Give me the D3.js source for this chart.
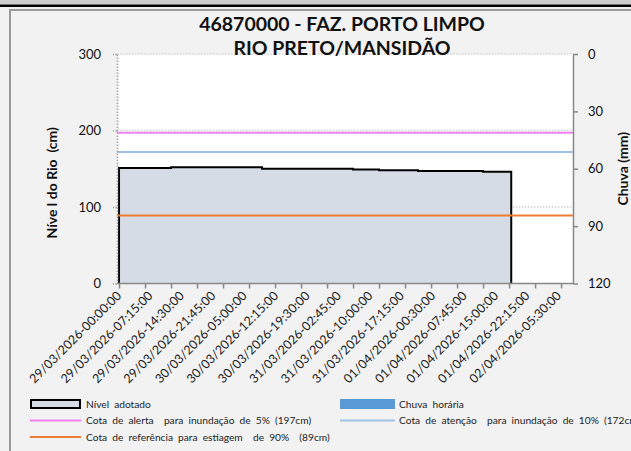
<!DOCTYPE html>
<html>
<head>
<meta charset="utf-8">
<script src="https://cdn.jsdelivr.net/npm/d3@7"></script>
<style>
  body { margin: 0; background: #f2f2f2; }
  svg { display: block; font-family: Lato, 'Open Sans', sans-serif; }
</style>
</head>
<body>
<svg id="chart" width="631" height="451"></svg>
<script>
// river level readings (cm), every 3 h
const levelTimes = [
  '29/03/2026 00:00', '29/03/2026 03:00', '29/03/2026 06:00', '29/03/2026 09:00',
  '29/03/2026 12:00', '29/03/2026 15:00', '29/03/2026 18:00', '29/03/2026 21:00',
  '30/03/2026 00:00', '30/03/2026 03:00', '30/03/2026 06:00', '30/03/2026 09:00',
  '30/03/2026 12:00', '30/03/2026 15:00', '30/03/2026 18:00', '30/03/2026 21:00',
  '31/03/2026 00:00', '31/03/2026 03:00', '31/03/2026 06:00', '31/03/2026 09:00',
  '31/03/2026 12:00', '31/03/2026 15:00', '31/03/2026 18:00', '31/03/2026 21:00',
  '01/04/2026 00:00', '01/04/2026 03:00', '01/04/2026 06:00', '01/04/2026 09:00',
  '01/04/2026 12:00', '01/04/2026 15:00', '01/04/2026 18:00', '01/04/2026 18:30'
];
const levelValues = [
  151, 151, 151, 151, 152, 152, 152, 152,
  152, 152, 152, 150, 150, 150, 150, 150,
  150, 150, 149, 149, 148, 148, 148, 147,
  147, 147, 147, 147, 146, 146, 146, 146
];
// hourly rain (mm) - nothing recorded
const rainValues = levelValues.map(() => 0);

const xLabels = [
  '29/03/2026-00:00:00', '29/03/2026-07:15:00', '29/03/2026-14:30:00', '29/03/2026-21:45:00',
  '30/03/2026-05:00:00', '30/03/2026-12:15:00', '30/03/2026-19:30:00', '31/03/2026-02:45:00',
  '31/03/2026-10:00:00', '31/03/2026-17:15:00', '01/04/2026-00:30:00', '01/04/2026-07:45:00',
  '01/04/2026-15:00:00', '01/04/2026-22:15:00', '02/04/2026-05:30:00'
];
const leftTicks = [0, 100, 200, 300];
const rightTicks = [0, 30, 60, 90, 120];

const alertLevel = 197;
const attentionLevel = 172;
const droughtLevel = 89;

const titleLines = ['46870000 - FAZ. PORTO LIMPO', 'RIO PRETO/MANSIDÃO'];

const parseTime = d3.timeParse('%d/%m/%Y %H:%M');
const parseLabel = d3.timeParse('%d/%m/%Y-%H:%M:%S');
const levelData = levelTimes.map((t, i) => ({ date: parseTime(t), value: levelValues[i], rain: rainValues[i] }));

const width = 631;
const height = 451;
const plot = { left: 117, right: 573, top: 54, bottom: 283.5 };

const svg = d3.select('#chart');

// frame
svg.append('rect').attr('width', width).attr('height', height).attr('fill', '#f2f2f2');
svg.append('rect').attr('width', width).attr('height', 4.5).attr('fill', '#cdcdcd');
svg.append('line').attr('x1', 0).attr('x2', width).attr('y1', 5.7).attr('y2', 5.7)
  .attr('stroke', '#000').attr('stroke-width', 2.4);
svg.append('line').attr('x1', 9).attr('x2', width).attr('y1', 10).attr('y2', 10)
  .attr('stroke', '#9a9a9a').attr('stroke-width', 2);
svg.append('line').attr('x1', 10).attr('x2', 10).attr('y1', 10).attr('y2', height)
  .attr('stroke', '#9a9a9a').attr('stroke-width', 2);

// plot background
svg.append('rect')
  .attr('x', plot.left).attr('y', plot.top)
  .attr('width', plot.right - plot.left).attr('height', plot.bottom - plot.top)
  .attr('fill', '#fff');

const x = d3.scaleTime()
  .domain([new Date(2026, 2, 28, 23, 32), new Date(2026, 3, 2, 8, 45)])
  .range([plot.left, plot.right]);
const y = d3.scaleLinear().domain([0, 300]).range([plot.bottom, plot.top]);
const yRain = d3.scaleLinear().domain([0, 120]).range([plot.top, plot.bottom]);

// grid
svg.append('g')
  .selectAll('line')
  .data(leftTicks.filter(d => d > 0))
  .join('line')
  .attr('x1', plot.left).attr('x2', plot.right)
  .attr('y1', d => y(d)).attr('y2', d => y(d))
  .attr('stroke', '#cfcfcf').attr('stroke-width', 1.5)
  .attr('stroke-dasharray', '1.5,1.5');

// level area
const area = d3.area()
  .curve(d3.curveStepAfter)
  .x(d => x(d.date))
  .y0(y(0))
  .y1(d => y(d.value));

svg.append('path')
  .datum(levelData)
  .attr('fill', '#d6dce5')
  .attr('d', area);

const first = levelData[0];
const last = levelData[levelData.length - 1];
svg.append('path')
  .datum([{ date: first.date, value: 0 }, ...levelData, { date: last.date, value: 0 }])
  .attr('fill', 'none')
  .attr('stroke', '#000')
  .attr('stroke-width', 2)
  .attr('d', d3.line().x(d => x(d.date)).y(d => y(d.value))
    .curve(d3.curveStepAfter));

// rain bars (hanging from top)
svg.append('g')
  .selectAll('rect')
  .data(levelData)
  .join('rect')
  .attr('x', d => x(d.date) - 1)
  .attr('width', 2)
  .attr('y', plot.top)
  .attr('height', d => yRain(d.rain) - plot.top)
  .attr('fill', '#5b9bd5');

// reference lines
const refs = [
  { value: alertLevel, color: '#ee82ee' },
  { value: attentionLevel, color: '#9dc3e6' },
  { value: droughtLevel, color: '#ed7d31' }
];
svg.append('g')
  .selectAll('line')
  .data(refs)
  .join('line')
  .attr('x1', plot.left).attr('x2', plot.right)
  .attr('y1', d => y(d.value)).attr('y2', d => y(d.value))
  .attr('stroke', d => d.color).attr('stroke-width', 2);

// left axis (dotted)
const leftAxis = svg.append('g')
  .attr('transform', `translate(${plot.left},0)`)
  .call(d3.axisLeft(y).tickValues(leftTicks).tickSize(4).tickSizeOuter(0).tickPadding(12));
leftAxis.select('.domain').attr('stroke', '#a0a0a0').attr('stroke-width', 1.5).attr('stroke-dasharray', '1.5,1.5');
leftAxis.selectAll('.tick line').attr('stroke', '#a0a0a0').attr('stroke-width', 1.5).attr('stroke-dasharray', '1.5,1.5');
leftAxis.selectAll('.tick text').attr('font-size', 13).attr('fill', '#111').attr('font-family', 'Lato');

// right axis
const rightAxis = svg.append('g')
  .attr('transform', `translate(${plot.right},0)`)
  .call(d3.axisRight(yRain).tickValues(rightTicks).tickSize(5).tickSizeOuter(0).tickPadding(10));
rightAxis.selectAll('.domain, .tick line').attr('stroke', '#888').attr('stroke-width', 1.5);
rightAxis.selectAll('.tick text').attr('font-size', 13).attr('fill', '#111').attr('font-family', 'Lato');

// bottom axis: ticks every 6 h, labels every 7:15
const tickDates = d3.range(0, 18).map(i => d3.timeHour.offset(first.date, i * 6));
const bottomAxis = svg.append('g')
  .attr('transform', `translate(0,${plot.bottom})`)
  .call(d3.axisBottom(x).tickValues(tickDates).tickSize(5).tickSizeOuter(0).tickFormat(''));
bottomAxis.selectAll('.domain, .tick line').attr('stroke', '#888').attr('stroke-width', 1.5);
bottomAxis.select('.domain').attr('d', `M${plot.left},0H${plot.right}`);

svg.append('g')
  .selectAll('text')
  .data(xLabels)
  .join('text')
  .attr('transform', d => `translate(${x(parseLabel(d)) + 3},${plot.bottom + 13}) rotate(-45)`)
  .attr('text-anchor', 'end')
  .attr('font-size', 12.5)
  .attr('fill', '#1a1a1a')
  .text(d => d);

// titles
const title = svg.append('g').attr('font-weight', 'bold').attr('text-anchor', 'middle').attr('fill', '#111');
svg.insert('rect', 'g')
  .attr('x', 250).attr('y', plot.top - 1.5).attr('width', 190).attr('height', 3).attr('fill', '#fff');
title.selectAll('text')
  .data(titleLines)
  .join('text')
  .attr('x', 342)
  .attr('y', (d, i) => 31 + i * 24)
  .attr('font-size', 19.5)
  .text(d => d);

svg.append('text')
  .attr('transform', `translate(57,${(plot.top + plot.bottom) / 2 + 14}) rotate(-90)`)
  .attr('text-anchor', 'middle')
  .attr('font-weight', 'bold').attr('font-size', 14).attr('fill', '#111')
  .attr('xml:space', 'preserve')
  .text('Níve l do Rio  (cm)');

svg.append('text')
  .attr('transform', `translate(628,${(plot.top + plot.bottom) / 2}) rotate(-90)`)
  .attr('text-anchor', 'middle')
  .attr('font-weight', 'bold').attr('font-size', 14).attr('fill', '#111')
  .attr('xml:space', 'preserve')
  .text('Chuva (mm)');

// legend
const legendItems = [
  { label: 'Nível adotado', kind: 'box', fill: '#d6dce5', col: 0, row: 0 },
  { label: 'Chuva horária', kind: 'bar', fill: '#5b9bd5', col: 1, row: 0 },
  { label: 'Cota de alerta  para inundação de 5% (197cm)', kind: 'line', fill: '#ee82ee', col: 0, row: 1 },
  { label: 'Cota de atenção  para inundação de 10% (172cm)', kind: 'line', fill: '#9dc3e6', col: 1, row: 1 },
  { label: 'Cota de referência para estiagem  de 90%  (89cm)', kind: 'line', fill: '#ed7d31', col: 0, row: 2 }
];
const legend = svg.append('g');
const cols = [30, 340];
const item = legend.selectAll('g')
  .data(legendItems)
  .join('g')
  .attr('transform', d => `translate(${cols[d.col]},${404 + d.row * 16.5})`);

item.filter(d => d.kind === 'box').append('rect')
  .attr('x', 1).attr('y', -4).attr('width', 49).attr('height', 8)
  .attr('fill', d => d.fill).attr('stroke', '#000').attr('stroke-width', 2);
item.filter(d => d.kind === 'bar').append('rect')
  .attr('x', 0).attr('y', -5).attr('width', 55).attr('height', 10)
  .attr('fill', d => d.fill);
item.filter(d => d.kind === 'line').append('line')
  .attr('x1', 0).attr('x2', d => d.col ? 55 : 51).attr('y1', 0).attr('y2', 0)
  .attr('stroke', d => d.fill).attr('stroke-width', 2);
item.append('text')
  .attr('x', d => d.col ? 59 : 56)
  .attr('dy', '0.35em')
  .attr('font-size', 10.2)
  .attr('word-spacing', 2.5)
  .attr('fill', '#222')
  .attr('xml:space', 'preserve')
  .text(d => d.label);
</script>
</body>
</html>
